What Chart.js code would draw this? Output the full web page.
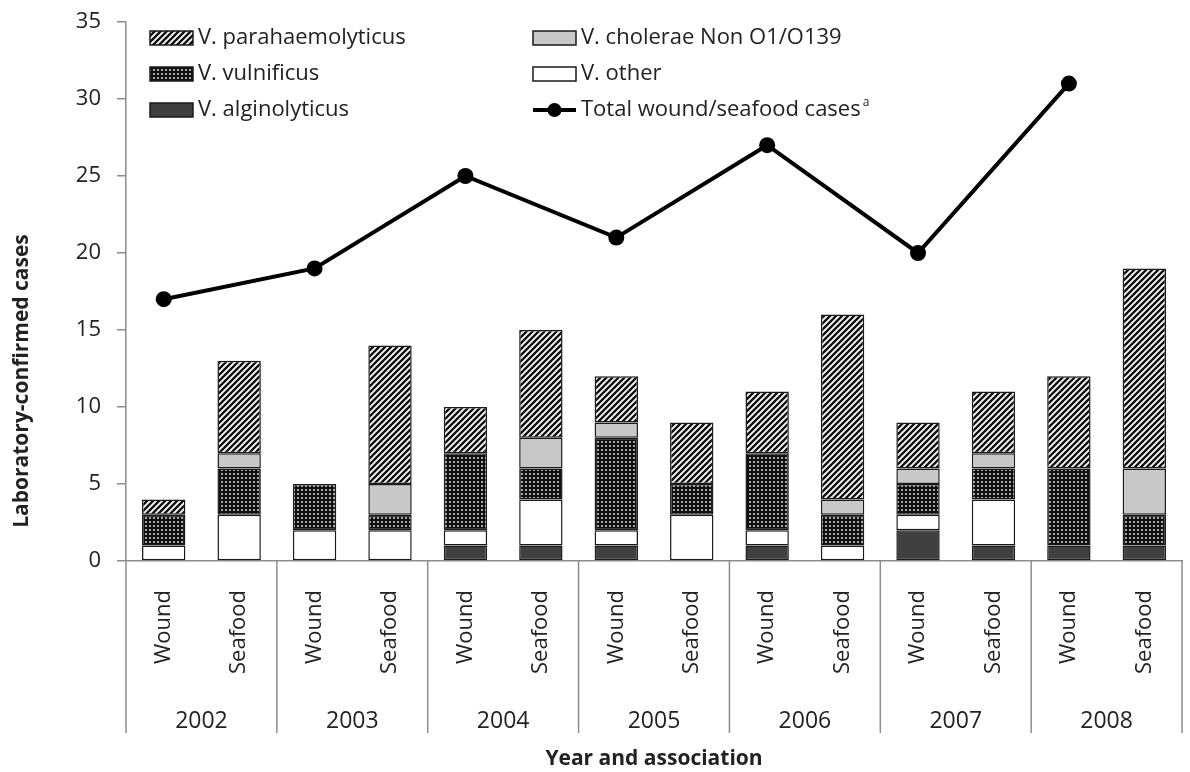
<!DOCTYPE html>
<html>
<head>
<meta charset="utf-8">
<script src="https://cdn.jsdelivr.net/npm/chart.js@4.4.1/dist/chart.umd.min.js"></script>
<style>
  html, body { margin: 0; padding: 0; background: #fff; overflow: hidden; }
  #wrap { width: 1200px; height: 772px; }
</style>
</head>
<body>
<div id="wrap"><canvas id="vibrioChart" width="1200" height="772"></canvas></div>
<script>
// x categories (wound / seafood for every year)
const categories = ['Wound', 'Seafood', 'Wound', 'Seafood', 'Wound', 'Seafood', 'Wound', 'Seafood',
  'Wound', 'Seafood', 'Wound', 'Seafood', 'Wound', 'Seafood'];
const years = ['2002', '2003', '2004', '2005', '2006', '2007', '2008'];

// stacked species counts (bottom -> top)
const alginolyticus    = [0, 0, 0, 0, 1, 1, 1, 0, 1, 0, 2, 1, 1, 1];
const other            = [1, 3, 2, 2, 1, 3, 1, 3, 1, 1, 1, 3, 0, 0];
const vulnificus       = [2, 3, 3, 1, 5, 2, 6, 2, 5, 2, 2, 2, 5, 2];
const cholerae         = [0, 1, 0, 2, 0, 2, 1, 0, 0, 1, 1, 1, 0, 3];
const parahaemolyticus = [1, 6, 0, 9, 3, 7, 3, 4, 4, 12, 3, 4, 6, 13];

// total wound + seafood per year, placed on the wound column
const totalCases = [17, null, 19, null, 25, null, 21, null, 27, null, 20, null, 31, null];

const yTicks = { min: 0, max: 35, step: 5 };

const textColor = '#222';
const axisColor = '#8c8c8c';
const edgeColor = '#1a1a1a';
Chart.defaults.font.family = '"Open Sans", sans-serif';
Chart.defaults.color = textColor;

// diagonal hatch pattern
function makeHatch() {
  const c = document.createElement('canvas');
  c.width = 6; c.height = 6;
  const g = c.getContext('2d');
  g.fillStyle = '#fff';
  g.fillRect(0, 0, 6, 6);
  g.strokeStyle = '#111';
  g.lineWidth = 2.4;
  g.beginPath();
  g.moveTo(-1, 7); g.lineTo(7, -1);
  g.moveTo(-1, 1); g.lineTo(1, -1);
  g.moveTo(5, 7); g.lineTo(7, 5);
  g.stroke();
  return g.createPattern(c, 'repeat');
}

// dark dotted pattern
function makeDots() {
  const c = document.createElement('canvas');
  c.width = 4; c.height = 4;
  const g = c.getContext('2d');
  g.fillStyle = '#111';
  g.fillRect(0, 0, 4, 4);
  g.fillStyle = '#e8e8e8';
  g.beginPath();
  g.arc(2, 2, 0.95, 0, Math.PI * 2);
  g.fill();
  return g.createPattern(c, 'repeat');
}

const hatchFill = makeHatch();
const dotFill = makeDots();

const species = [
  { label: 'V. alginolyticus', data: alginolyticus, fill: '#404040' },
  { label: 'V. other', data: other, fill: '#ffffff' },
  { label: 'V. vulnificus', data: vulnificus, fill: dotFill },
  { label: 'V. cholerae Non O1/O139', data: cholerae, fill: '#c8c8c8' },
  { label: 'V. parahaemolyticus', data: parahaemolyticus, fill: hatchFill }
];

const barSets = species.map(s => ({
  type: 'bar',
  label: s.label,
  data: s.data.map(v => v || null),
  backgroundColor: s.fill,
  borderColor: edgeColor,
  borderWidth: 1.5,
  borderSkipped: false,
  barPercentage: 0.575,
  categoryPercentage: 1,
  stack: 'species',
  order: 2
}));

const totalSet = {
  type: 'line',
  label: 'Total wound/seafood cases',
  data: totalCases,
  borderColor: '#000',
  backgroundColor: '#000',
  borderWidth: 4,
  pointRadius: 8,
  pointBackgroundColor: '#000',
  pointBorderWidth: 0,
  spanGaps: true,
  tension: 0,
  stack: 'total',
  order: 0
};

// legend in two columns inside the plot area
const legendPlugin = {
  id: 'gridLegend',
  afterDraw(chart) {
    const ctx = chart.ctx;
    const left = chart.chartArea.left;
    const cols = [left + 24, left + 407];
    const rows = [38, 74, 110];
    const items = [
      { text: 'V. parahaemolyticus', fill: hatchFill, col: 0, row: 0 },
      { text: 'V. vulnificus', fill: dotFill, col: 0, row: 1 },
      { text: 'V. alginolyticus', fill: '#404040', col: 0, row: 2 },
      { text: 'V. cholerae Non O1/O139', fill: '#c8c8c8', col: 1, row: 0 },
      { text: 'V. other', fill: '#ffffff', col: 1, row: 1 },
      { text: 'Total wound/seafood cases', line: true, col: 1, row: 2 }
    ];
    ctx.save();
    items.forEach(it => {
      const x = cols[it.col];
      const y = rows[it.row];
      if (it.line) {
        ctx.strokeStyle = '#000';
        ctx.lineWidth = 4;
        ctx.beginPath();
        ctx.moveTo(x, y);
        ctx.lineTo(x + 43, y);
        ctx.stroke();
        ctx.fillStyle = '#000';
        ctx.beginPath();
        ctx.arc(x + 21.5, y, 7, 0, Math.PI * 2);
        ctx.fill();
      } else {
        ctx.fillStyle = it.fill;
        ctx.fillRect(x, y - 7, 43, 14);
        ctx.strokeStyle = edgeColor;
        ctx.lineWidth = 1.5;
        ctx.strokeRect(x, y - 7, 43, 14);
      }
      ctx.fillStyle = textColor;
      ctx.font = '22px "Open Sans", sans-serif';
      ctx.textAlign = 'left';
      ctx.textBaseline = 'middle';
      ctx.fillText(it.text, x + 48, y);
      if (it.line) {
        const w = ctx.measureText(it.text).width;
        ctx.font = '12px "Open Sans", sans-serif';
        ctx.fillText('a', x + 50 + w, y - 7);
      }
    });
    ctx.restore();
  }
};

// year group separators and the y-axis title
const framePlugin = {
  id: 'frame',
  afterDraw(chart) {
    const ctx = chart.ctx;
    const xs = chart.scales.x;
    const x2 = chart.scales.x2;
    const top = chart.chartArea.bottom;
    const bottom = x2.top + 42;
    ctx.save();
    ctx.strokeStyle = axisColor;
    ctx.lineWidth = 1.5;
    for (let k = 0; k <= years.length; k++) {
      const px = xs.getPixelForValue(2 * k - 0.5);
      ctx.beginPath();
      ctx.moveTo(px, top);
      ctx.lineTo(px, bottom);
      ctx.stroke();
    }
    ctx.translate(22, 381);
    ctx.rotate(-Math.PI / 2);
    ctx.fillStyle = textColor;
    ctx.font = 'bold 21px "Open Sans", sans-serif';
    ctx.textAlign = 'center';
    ctx.textBaseline = 'middle';
    ctx.fillText('Laboratory-confirmed cases', 0, 0);
    ctx.restore();
  }
};

const ctx = document.getElementById('vibrioChart').getContext('2d');
new Chart(ctx, {
  data: {
    labels: categories,
    datasets: [totalSet, ...barSets]
  },
  options: {
    responsive: false,
    animation: false,
    devicePixelRatio: 1,
    layout: { padding: { top: 22, right: 2, left: 0, bottom: 0 } },
    plugins: {
      legend: { display: false },
      tooltip: { enabled: false }
    },
    scales: {
      x: {
        stacked: true,
        weight: 0,
        grid: { display: false, drawTicks: false },
        border: { display: true, color: axisColor, width: 1.5 },
        ticks: {
          autoSkip: false,
          minRotation: 90,
          maxRotation: 90,
          padding: 29,
          font: { size: 22 },
          color: textColor
        },
        afterFit: s => { s.height = 130; }
      },
      x2: {
        type: 'category',
        labels: years,
        position: 'bottom',
        weight: 1,
        offset: true,
        grid: { display: false, drawTicks: false },
        border: { display: false },
        ticks: { padding: 17, font: { size: 23 }, color: textColor },
        title: {
          display: true,
          text: 'Year and association',
          font: { size: 21, weight: 'bold' },
          color: textColor,
          padding: 0
        },
        afterFit: s => { s.height = 81; }
      },
      y: {
        stacked: true,
        min: yTicks.min,
        max: yTicks.max,
        ticks: { stepSize: yTicks.step, padding: 16, font: { size: 22 }, color: textColor },
        grid: { drawOnChartArea: false, drawTicks: true, tickLength: 9, color: axisColor, lineWidth: 1.5 },
        border: { display: true, color: axisColor, width: 1.5 },
        afterFit: s => {
          s.width = 126;
          // top label overflow stays inside the layout padding
          s.paddingTop = 12;
          s.paddingBottom = 0;
        }
      }
    }
  },
  plugins: [legendPlugin, framePlugin]
});
</script>
</body>
</html>
